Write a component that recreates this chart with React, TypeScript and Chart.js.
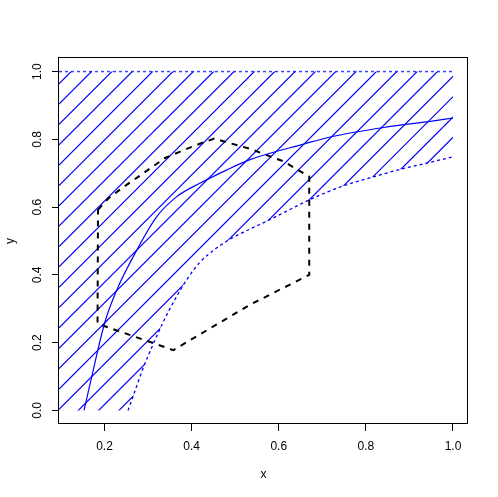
import React, { useEffect, useRef } from 'react';
import { Chart, registerables } from 'chart.js';

Chart.register(...registerables);

// axes
const xTicks = [0.2, 0.4, 0.6, 0.8, 1.0];
const yTicks = [0.0, 0.2, 0.4, 0.6, 0.8, 1.0];
const xRange = [0.0955, 1.0345];
const yRange = [-0.04, 1.04];

// solid blue curve
const solidX = [0.153, 0.167, 0.201, 0.228, 0.274, 0.32, 0.366, 0.42, 0.481, 0.534, 0.657, 0.718, 0.841, 0.948, 1.0];
const solidY = [0.0, 0.079, 0.261, 0.355, 0.473, 0.572, 0.631, 0.671, 0.71, 0.74, 0.786, 0.807, 0.835, 0.853, 0.863];

// lower dotted blue curve (lower edge of hatched region)
const dottedX = [0.254, 0.2655, 0.2885, 0.3115, 0.3345, 0.3621, 0.3897, 0.4195, 0.454, 0.4931, 0.5345, 0.5736, 0.6034, 0.6701, 0.7483, 0.8172, 0.8839, 0.9437, 1.0];
const dottedY = [0.0, 0.0414, 0.1243, 0.1953, 0.2604, 0.3284, 0.3876, 0.4379, 0.4763, 0.5089, 0.5355, 0.5592, 0.5784, 0.6213, 0.6627, 0.6893, 0.713, 0.7308, 0.7485];

// upper dotted line (y = 1 across the plot)
const topX = [xRange[0], 1.0];
const topY = [1.0, 1.0];

// dashed black polygon
const hullX = [0.185, 0.209, 0.24, 0.278, 0.339, 0.393, 0.427, 0.452, 0.534, 0.611, 0.67, 0.67, 0.534, 0.358, 0.184, 0.185];
const hullY = [0.592, 0.626, 0.656, 0.69, 0.745, 0.774, 0.791, 0.802, 0.772, 0.735, 0.69, 0.4, 0.312, 0.178, 0.256, 0.592];

// hatched region corners (the lower edge follows the dotted curve)
const hatchLeft = xRange[0];
const hatchTop = 1.0;
const hatchBottom = 0.0;

const zip = (xs: number[], ys: number[]) => xs.map((x, i) => ({ x, y: ys[i] }));

const FONT = '12px "Liberation Sans", Arial, sans-serif';
const BLUE = 'rgb(0,0,255)';

const rPlugin = {
  id: 'rPlugin',
  beforeDatasetsDraw(chart: any) {
    const { ctx, chartArea: a, scales } = chart;
    const xs = scales.x;
    const ys = scales.y;
    const pts = chart.getDatasetMeta(1).data as any[];
    ctx.save();
    ctx.beginPath();
    ctx.moveTo(xs.getPixelForValue(hatchLeft), ys.getPixelForValue(hatchBottom));
    pts.forEach((p: any, i: number) => {
      if (i === 0) {
        ctx.lineTo(p.x, p.y);
      } else {
        const q = pts[i - 1];
        if (q.cp2x !== undefined && p.cp1x !== undefined) ctx.bezierCurveTo(q.cp2x, q.cp2y, p.cp1x, p.cp1y, p.x, p.y);
        else ctx.lineTo(p.x, p.y);
      }
    });
    ctx.lineTo(xs.getPixelForValue(dottedX[dottedX.length - 1]), ys.getPixelForValue(hatchTop));
    ctx.lineTo(xs.getPixelForValue(hatchLeft), ys.getPixelForValue(hatchTop));
    ctx.closePath();
    ctx.clip();
    ctx.setLineDash([]);
    ctx.lineWidth = 1.2;
    ctx.strokeStyle = BLUE;
    const L = a.left, R = a.right, T = a.top, B = a.bottom;
    const base = L + T + 5.4;
    const s = 20.35;
    ctx.beginPath();
    for (let k = 0; k < 50; k++) {
      const c = base + k * s;
      const x1 = Math.max(L, c - B);
      const x2 = Math.min(R, c - T);
      if (x2 <= x1) continue;
      ctx.moveTo(x1, c - x1);
      ctx.lineTo(x2, c - x2);
    }
    ctx.stroke();
    ctx.beginPath();
    ctx.restore();
  },
  afterDraw(chart: any) {
    const { ctx, chartArea: a, scales } = chart;
    const xs = scales.x;
    const ys = scales.y;
    ctx.save();
    ctx.beginPath();
    ctx.setLineDash([]);
    ctx.strokeStyle = '#000';
    ctx.lineWidth = 1;
    ctx.strokeRect(Math.round(a.left) - 0.5, Math.round(a.top) - 0.5, Math.round(a.right - a.left), Math.round(a.bottom - a.top));
    ctx.fillStyle = '#000';
    ctx.font = FONT;
    ctx.textAlign = 'center';
    ctx.textBaseline = 'middle';
    xTicks.forEach((v) => {
      ctx.fillText(v.toFixed(1), xs.getPixelForValue(v), a.bottom + 22.5);
    });
    ctx.fillText('x', (a.left + a.right) / 2, a.bottom + 50.5);
    yTicks.forEach((v) => {
      ctx.save();
      ctx.translate(a.left - 21, ys.getPixelForValue(v));
      ctx.rotate(-Math.PI / 2);
      ctx.fillText(v.toFixed(1), 0, 0);
      ctx.restore();
    });
    ctx.save();
    ctx.translate(a.left - 48.5, (a.top + a.bottom) / 2);
    ctx.rotate(-Math.PI / 2);
    ctx.fillText('y', 0, 0);
    ctx.restore();
    ctx.restore();
  },
};

export default function App() {
  const ref = useRef<HTMLCanvasElement | null>(null);
  useEffect(() => {
    if (!ref.current) return;
    const chart = new Chart(ref.current, {
      type: 'scatter',
      data: {
        datasets: [
          { data: zip(topX, topY), showLine: true, borderColor: 'rgba(0,0,255,0.75)', borderWidth: 1.5, borderDash: [3, 3], pointRadius: 0 },
          { data: zip(dottedX, dottedY), showLine: true, borderColor: BLUE, borderWidth: 1.3, borderDash: [3, 3], pointRadius: 0, cubicInterpolationMode: 'monotone' },
          { data: zip(solidX, solidY), showLine: true, borderColor: BLUE, borderWidth: 1.2, pointRadius: 0, cubicInterpolationMode: 'monotone' },
          { data: zip(hullX, hullY), showLine: true, borderColor: '#000000', borderWidth: 2, borderDash: [6, 6], pointRadius: 0, tension: 0 },
        ],
      } as any,
      options: {
        responsive: false,
        animation: false,
        events: [],
        layout: { padding: { top: 58, right: 30, left: 0, bottom: 0 } },
        plugins: { legend: { display: false }, tooltip: { enabled: false } },
        scales: {
          x: {
            type: 'linear', min: xRange[0], max: xRange[1],
            afterBuildTicks: (s: any) => { s.ticks = xTicks.map((v) => ({ value: v })); },
            afterFit: (s: any) => { s.height = 73; },
            ticks: { display: false },
            border: { display: false },
            grid: { drawOnChartArea: false, drawTicks: true, tickLength: 7, tickColor: '#000', lineWidth: 1 },
          },
          y: {
            type: 'linear', min: yRange[0], max: yRange[1],
            afterBuildTicks: (s: any) => { s.ticks = yTicks.map((v) => ({ value: v })); },
            afterFit: (s: any) => { s.width = 59; },
            ticks: { display: false },
            border: { display: false },
            grid: { drawOnChartArea: false, drawTicks: true, tickLength: 7, tickColor: '#000', lineWidth: 1 },
          },
        },
      } as any,
      plugins: [rPlugin],
    });
    return () => chart.destroy();
  }, []);
  return (
    <div style={{ position: 'fixed', left: 0, top: 0, width: 498, height: 497, background: '#fff' }}>
      <canvas ref={ref} width={498} height={497} style={{ width: 498, height: 497, display: 'block' }} />
    </div>
  );
}
